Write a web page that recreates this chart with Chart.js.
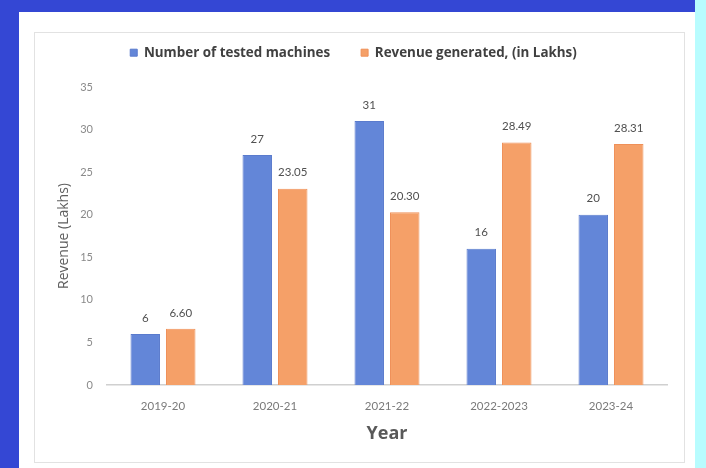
<!DOCTYPE html>
<html>
<head>
<meta charset="utf-8">
<script src="https://cdn.jsdelivr.net/npm/chart.js@4"></script>
<style>
  html, body { margin:0; padding:0; width:706px; height:468px; overflow:hidden; background:#3447d4; }
  #cyan { position:absolute; left:695px; top:0; width:11px; height:468px; background:#b8fcfe; }
  #white { position:absolute; left:19px; top:12px; width:676px; height:456px; background:#ffffff; }
  #frame { position:absolute; left:34px; top:32px; width:649px; height:429px; border:1px solid #e2e2e2; }
  #wrap { position:absolute; left:0; top:0; width:706px; height:468px; }
</style>
</head>
<body>
<div id="cyan"></div>
<div id="white"></div>
<div id="frame"></div>
<div id="wrap"><canvas id="c" width="706" height="468"></canvas></div>
<script>
const categories = ['2019-20', '2020-21', '2021-22', '2022-2023', '2023-24'];
const machines = [6, 27, 31, 16, 20];
const revenue = [6.60, 23.05, 20.30, 28.49, 28.31];
const seriesNames = ['Number of tested machines', 'Revenue generated, (in Lakhs)'];
const yTicks = [0, 5, 10, 15, 20, 25, 30, 35];

const FONT = 'Lato, "Open Sans", sans-serif';
const WIDE = '"Open Sans", Lato, sans-serif';

const valueLabels = {
  id: 'valueLabels',
  afterDatasetsDraw(chart) {
    const ctx = chart.ctx;
    ctx.save();
    ctx.font = '11.5px ' + FONT;
    ctx.fillStyle = '#505050';
    ctx.textAlign = 'center';
    ctx.textBaseline = 'middle';
    chart.data.datasets.forEach((ds, di) => {
      const meta = chart.getDatasetMeta(di);
      meta.data.forEach((bar, i) => {
        const v = ds.data[i];
        const txt = di === 0 ? String(v) : v.toFixed(2);
        ctx.fillText(txt, bar.x, bar.y - 16);
      });
    });
    ctx.restore();
  }
};

const legendHeight = {
  id: 'legendHeight',
  beforeLayout(chart) {
    const l = chart.legend;
    if (l && !l._patched) {
      const f = l.fit;
      l.fit = function () { f.call(this); this.height = 72; };
      l._patched = true;
    }
  }
};

new Chart(document.getElementById('c'), {
  type: 'bar',
  data: {
    labels: categories,
    datasets: [
      { label: seriesNames[0], data: machines, backgroundColor: '#6386d8', borderColor: '#5a7bcd', borderWidth: 1,
        barPercentage: 0.83, categoryPercentage: 0.634 },
      { label: seriesNames[1], data: revenue, backgroundColor: '#f5a068', borderColor: '#ef9058', borderWidth: 1,
        barPercentage: 0.83, categoryPercentage: 0.634 }
    ]
  },
  options: {
    responsive: false,
    animation: false,
    devicePixelRatio: 1,
    layout: { padding: { top: 15, left: 40, right: 39, bottom: 20 } },
    plugins: {
      legend: {
        position: 'top',
        labels: {
          boxWidth: 7, boxHeight: 7, padding: 31,
          color: '#404040',
          font: { family: WIDE, size: 13.4, weight: 'bold' }
        }
      },
      tooltip: { enabled: false }
    },
    scales: {
      x: {
        grid: { display: false, drawTicks: false },
        border: { display: true, color: '#d0d0d0', width: 1.5 },
        ticks: { color: '#7a7a7a', padding: 14, font: { family: FONT, size: 11.5 } },
        title: { display: true, text: 'Year', color: '#595959', font: { family: WIDE, size: 18, weight: 'bold' },
                 padding: { top: 4, bottom: 3 } },
        afterFit(s) { s.height = 63; }
      },
      y: {
        min: 0, max: 35,
        grid: { display: false, drawTicks: false },
        border: { display: false },
        afterBuildTicks(s) { s.ticks = yTicks.map(v => ({ value: v })); },
        ticks: { color: '#8a8a8a', padding: 14, font: { family: FONT, size: 11 } },
        title: { display: true, text: 'Revenue (Lakhs)', color: '#606060', font: { family: WIDE, size: 14 },
                 padding: { top: 16, bottom: 0 } },
        afterFit(s) { s.width = 67; }
      }
    }
  },
  plugins: [valueLabels, legendHeight]
});
</script>
</body>
</html>
